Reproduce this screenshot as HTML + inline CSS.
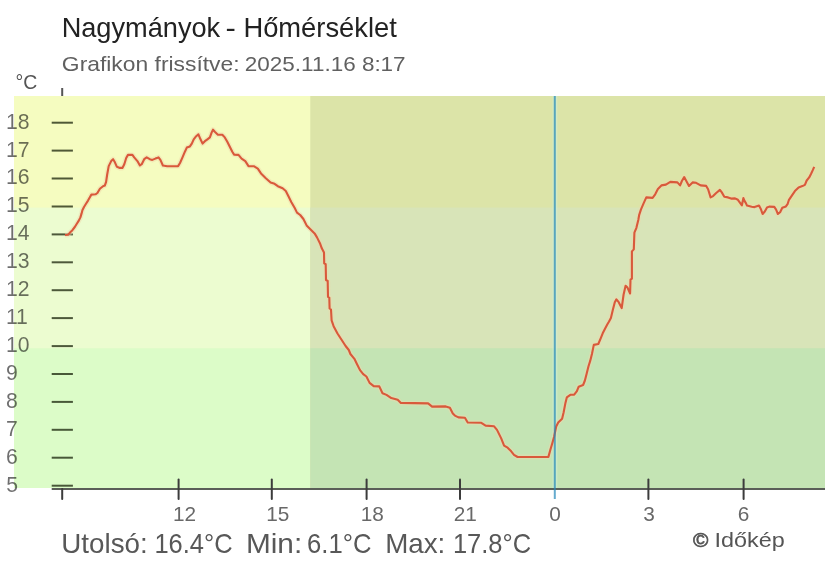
<!DOCTYPE html>
<html><head><meta charset="utf-8"><style>
html,body{margin:0;padding:0;background:#fff;width:825px;height:562px;overflow:hidden}
svg{display:block;will-change:transform;font-family:"Liberation Sans",sans-serif}
.yl{fill:rgba(0,0,0,0.57)}
.xl{fill:#686868}
.title{fill:#222}
.sub{fill:#606060}
.unit{fill:#555}
.foot{fill:#585858}
.copy{fill:#555}
</style></head><body>
<svg width="825" height="562" viewBox="0 0 825 562">
<rect x="14" y="96" width="811" height="392" fill="#f5fcc0"/>
<rect x="14" y="207.6" width="811" height="280.4" fill="#ecfcd0"/>
<rect x="14" y="348.2" width="811" height="139.8" fill="#dcfcc8"/>
<rect x="310.3" y="96" width="514.7" height="392" fill="#dce4a8"/>
<rect x="310.3" y="207.6" width="514.7" height="280.4" fill="#d8e4b8"/>
<rect x="310.3" y="348.2" width="514.7" height="139.8" fill="#c4e4b4"/>
<line x1="51.7" x2="72.9" y1="485.7" y2="485.7" stroke="rgba(15,25,0,0.72)" stroke-width="2"/>
<text x="6.15" y="491.56" font-size="21.2" class="yl">5</text>
<line x1="51.7" x2="72.9" y1="457.7" y2="457.7" stroke="rgba(15,25,0,0.72)" stroke-width="2"/>
<text x="5.94" y="463.64" font-size="21.2" class="yl">6</text>
<line x1="51.7" x2="72.9" y1="429.8" y2="429.8" stroke="rgba(15,25,0,0.72)" stroke-width="2"/>
<text x="5.94" y="435.72" font-size="21.2" class="yl">7</text>
<line x1="51.7" x2="72.9" y1="401.9" y2="401.9" stroke="rgba(15,25,0,0.72)" stroke-width="2"/>
<text x="6.05" y="407.80" font-size="21.2" class="yl">8</text>
<line x1="51.7" x2="72.9" y1="374.0" y2="374.0" stroke="rgba(15,25,0,0.72)" stroke-width="2"/>
<text x="6.05" y="379.88" font-size="21.2" class="yl">9</text>
<line x1="51.7" x2="72.9" y1="346.1" y2="346.1" stroke="rgba(15,25,0,0.72)" stroke-width="2"/>
<text x="5.91" y="351.96" font-size="21.2" class="yl">10</text>
<line x1="51.7" x2="72.9" y1="318.1" y2="318.1" stroke="rgba(15,25,0,0.72)" stroke-width="2"/>
<text x="5.91" y="324.04" font-size="21.2" class="yl">11</text>
<line x1="51.7" x2="72.9" y1="290.2" y2="290.2" stroke="rgba(15,25,0,0.72)" stroke-width="2"/>
<text x="5.91" y="296.12" font-size="21.2" class="yl">12</text>
<line x1="51.7" x2="72.9" y1="262.3" y2="262.3" stroke="rgba(15,25,0,0.72)" stroke-width="2"/>
<text x="5.91" y="268.20" font-size="21.2" class="yl">13</text>
<line x1="51.7" x2="72.9" y1="234.4" y2="234.4" stroke="rgba(15,25,0,0.72)" stroke-width="2"/>
<text x="5.91" y="240.28" font-size="21.2" class="yl">14</text>
<line x1="51.7" x2="72.9" y1="206.5" y2="206.5" stroke="rgba(15,25,0,0.72)" stroke-width="2"/>
<text x="5.91" y="212.36" font-size="21.2" class="yl">15</text>
<line x1="51.7" x2="72.9" y1="178.5" y2="178.5" stroke="rgba(15,25,0,0.72)" stroke-width="2"/>
<text x="5.91" y="184.44" font-size="21.2" class="yl">16</text>
<line x1="51.7" x2="72.9" y1="150.6" y2="150.6" stroke="rgba(15,25,0,0.72)" stroke-width="2"/>
<text x="5.91" y="156.52" font-size="21.2" class="yl">17</text>
<line x1="51.7" x2="72.9" y1="122.7" y2="122.7" stroke="rgba(15,25,0,0.72)" stroke-width="2"/>
<text x="5.91" y="128.60" font-size="21.2" class="yl">18</text>
<line x1="51.7" x2="825" y1="489" y2="489" stroke="#5a5e58" stroke-width="2"/>
<line x1="62.2" x2="62.2" y1="88" y2="96" stroke="#555" stroke-width="2"/>
<line x1="62.2" x2="62.2" y1="489" y2="499" stroke="#3c3c3c" stroke-width="2" stroke-linecap="round"/>
<line x1="178.6" x2="178.6" y1="479.4" y2="499" stroke="#3c3c3c" stroke-width="2" stroke-linecap="round"/>
<line x1="271.8" x2="271.8" y1="479.4" y2="499" stroke="#3c3c3c" stroke-width="2" stroke-linecap="round"/>
<line x1="366.6" x2="366.6" y1="479.4" y2="499" stroke="#3c3c3c" stroke-width="2" stroke-linecap="round"/>
<line x1="460.0" x2="460.0" y1="479.4" y2="499" stroke="#3c3c3c" stroke-width="2" stroke-linecap="round"/>
<line x1="648.4" x2="648.4" y1="479.4" y2="499" stroke="#3c3c3c" stroke-width="2" stroke-linecap="round"/>
<line x1="743.6" x2="743.6" y1="479.4" y2="499" stroke="#3c3c3c" stroke-width="2" stroke-linecap="round"/>
<text x="172.94" y="520.80" font-size="20.8" class="xl">12</text>
<text x="266.24" y="520.80" font-size="20.8" class="xl">15</text>
<text x="360.64" y="520.80" font-size="20.8" class="xl">18</text>
<text x="453.66" y="520.80" font-size="20.8" class="xl">21</text>
<text x="549.28" y="520.80" font-size="20.8" class="xl">0</text>
<text x="643.13" y="520.80" font-size="20.8" class="xl">3</text>
<text x="737.72" y="520.80" font-size="20.8" class="xl">6</text>
<line x1="554.9" x2="554.9" y1="96" y2="488" stroke="rgba(205,238,215,0.55)" stroke-width="5"/>
<polyline points="65.0,235.0 68.0,234.8 70.0,232.6 72.4,230.2 74.8,227.0 76.8,223.8 78.8,220.6 80.4,217.4 81.6,213.4 82.4,210.2 84.0,207.0 86.0,203.8 88.0,200.6 90.0,197.0 91.4,194.6 95.5,194.3 97.4,193.0 99.9,188.7 103.0,186.2 104.8,185.6 106.1,181.8 107.1,175.0 108.7,166.1 111.2,161.1 113.1,159.2 114.9,162.3 116.8,166.7 119.9,167.9 122.4,167.9 124.3,164.2 126.2,158.0 128.0,154.9 132.4,154.9 134.2,157.4 137.4,161.1 139.9,165.5 141.7,164.2 144.2,159.2 146.7,157.4 149.8,159.2 152.3,159.9 155.4,158.6 158.5,157.4 160.4,159.9 162.9,165.5 167.2,166.3 178.1,166.1 180.0,163.0 182.5,157.3 184.9,151.7 186.8,147.6 189.9,146.4 191.8,143.6 193.7,139.3 196.2,136.2 198.4,134.3 200.5,139.3 202.6,143.6 204.9,141.2 207.4,139.3 209.9,137.4 211.7,132.4 213.0,129.7 214.8,131.8 217.9,134.7 222.3,134.7 224.8,137.4 227.3,141.8 229.8,146.8 232.3,151.7 234.1,154.6 238.5,154.9 241.6,158.6 245.3,161.1 248.5,166.1 253.8,166.2 257.8,168.6 261.0,173.4 265.8,178.2 270.6,182.5 274.6,183.8 277.8,186.2 282.6,188.3 285.8,191.0 288.2,195.8 291.4,202.2 294.6,207.8 297.0,212.6 300.2,215.0 303.4,219.0 306.6,225.4 310.6,229.4 314.6,233.4 317.0,237.4 320.2,243.8 321.8,248.3 324.0,252.6 324.2,263.4 325.7,264.2 326.0,280.0 327.7,281.0 328.0,296.8 329.3,297.7 329.6,308.5 331.0,309.5 331.6,320.3 333.6,326.2 337.5,333.5 341.4,339.5 345.6,346.0 348.8,350.0 350.4,354.0 354.4,358.8 356.8,363.7 360.0,370.1 363.2,374.1 366.4,376.5 369.6,382.9 373.7,386.1 379.3,386.4 382.5,393.3 386.5,394.9 391.3,398.1 397.7,399.7 400.9,402.9 428.1,403.4 432.1,406.6 445.7,406.4 449.9,407.8 452.8,413.5 454.9,415.6 458.5,417.4 464.9,417.8 467.7,422.5 481.3,422.8 485.6,425.6 494.1,426.3 497.0,429.9 501.2,438.4 504.1,445.6 507.6,447.7 511.2,451.3 514.0,454.8 517.6,457.0 548.4,456.9 550.3,450.0 552.3,443.2 554.2,436.3 556.2,426.5 558.2,422.6 562.1,418.7 563.6,412.5 565.3,403.6 566.8,397.4 570.7,394.7 574.2,394.7 576.9,391.2 578.7,386.7 583.1,385.0 584.9,380.5 586.7,373.4 588.5,366.3 590.2,360.9 592.0,353.8 593.8,344.9 598.3,344.0 600.9,337.8 602.7,333.3 605.4,328.0 607.4,324.3 608.9,321.8 610.9,317.9 612.8,310.0 614.8,302.2 616.4,299.3 618.7,302.2 621.7,308.1 623.6,294.5 625.6,285.7 627.5,287.6 630.1,293.5 630.5,279.7 631.9,278.7 631.9,251.4 633.8,249.4 634.4,232.7 636.4,227.8 638.3,220.0 639.2,214.8 641.0,209.4 643.7,203.2 646.3,197.4 652.6,197.9 655.2,194.3 657.9,189.0 661.4,185.4 665.9,184.6 670.3,181.9 677.4,182.4 680.1,185.4 681.9,181.0 684.2,177.1 686.3,181.0 689.0,186.0 692.6,182.4 696.1,182.8 700.6,185.4 706.2,185.9 708.1,189.3 710.6,197.4 713.1,196.1 716.2,193.0 719.9,189.9 721.8,192.4 724.3,196.7 728.0,197.4 731.1,198.6 735.0,198.4 737.9,199.8 740.8,203.8 741.9,205.3 743.4,198.0 744.5,200.9 745.9,203.1 747.0,205.6 751.7,206.7 754.6,207.1 759.0,205.6 760.8,208.9 762.6,214.0 764.8,211.5 767.0,207.5 769.2,206.6 774.3,206.9 776.1,209.6 777.9,214.0 780.1,212.2 782.3,207.8 785.9,206.4 787.7,203.8 788.8,200.2 791.0,196.9 794.9,191.1 798.6,187.4 802.4,186.1 804.9,184.9 806.7,180.5 809.2,177.4 811.1,173.7 812.9,169.9 814.2,166.8" fill="none" stroke="rgba(240,215,170,0.45)" stroke-width="5" stroke-linejoin="round"/>
<polyline points="65.0,235.0 68.0,234.8 70.0,232.6 72.4,230.2 74.8,227.0 76.8,223.8 78.8,220.6 80.4,217.4 81.6,213.4 82.4,210.2 84.0,207.0 86.0,203.8 88.0,200.6 90.0,197.0 91.4,194.6 95.5,194.3 97.4,193.0 99.9,188.7 103.0,186.2 104.8,185.6 106.1,181.8 107.1,175.0 108.7,166.1 111.2,161.1 113.1,159.2 114.9,162.3 116.8,166.7 119.9,167.9 122.4,167.9 124.3,164.2 126.2,158.0 128.0,154.9 132.4,154.9 134.2,157.4 137.4,161.1 139.9,165.5 141.7,164.2 144.2,159.2 146.7,157.4 149.8,159.2 152.3,159.9 155.4,158.6 158.5,157.4 160.4,159.9 162.9,165.5 167.2,166.3 178.1,166.1 180.0,163.0 182.5,157.3 184.9,151.7 186.8,147.6 189.9,146.4 191.8,143.6 193.7,139.3 196.2,136.2 198.4,134.3 200.5,139.3 202.6,143.6 204.9,141.2 207.4,139.3 209.9,137.4 211.7,132.4 213.0,129.7 214.8,131.8 217.9,134.7 222.3,134.7 224.8,137.4 227.3,141.8 229.8,146.8 232.3,151.7 234.1,154.6 238.5,154.9 241.6,158.6 245.3,161.1 248.5,166.1 253.8,166.2 257.8,168.6 261.0,173.4 265.8,178.2 270.6,182.5 274.6,183.8 277.8,186.2 282.6,188.3 285.8,191.0 288.2,195.8 291.4,202.2 294.6,207.8 297.0,212.6 300.2,215.0 303.4,219.0 306.6,225.4 310.6,229.4 314.6,233.4 317.0,237.4 320.2,243.8 321.8,248.3 324.0,252.6 324.2,263.4 325.7,264.2 326.0,280.0 327.7,281.0 328.0,296.8 329.3,297.7 329.6,308.5 331.0,309.5 331.6,320.3 333.6,326.2 337.5,333.5 341.4,339.5 345.6,346.0 348.8,350.0 350.4,354.0 354.4,358.8 356.8,363.7 360.0,370.1 363.2,374.1 366.4,376.5 369.6,382.9 373.7,386.1 379.3,386.4 382.5,393.3 386.5,394.9 391.3,398.1 397.7,399.7 400.9,402.9 428.1,403.4 432.1,406.6 445.7,406.4 449.9,407.8 452.8,413.5 454.9,415.6 458.5,417.4 464.9,417.8 467.7,422.5 481.3,422.8 485.6,425.6 494.1,426.3 497.0,429.9 501.2,438.4 504.1,445.6 507.6,447.7 511.2,451.3 514.0,454.8 517.6,457.0 548.4,456.9 550.3,450.0 552.3,443.2 554.2,436.3 556.2,426.5 558.2,422.6 562.1,418.7 563.6,412.5 565.3,403.6 566.8,397.4 570.7,394.7 574.2,394.7 576.9,391.2 578.7,386.7 583.1,385.0 584.9,380.5 586.7,373.4 588.5,366.3 590.2,360.9 592.0,353.8 593.8,344.9 598.3,344.0 600.9,337.8 602.7,333.3 605.4,328.0 607.4,324.3 608.9,321.8 610.9,317.9 612.8,310.0 614.8,302.2 616.4,299.3 618.7,302.2 621.7,308.1 623.6,294.5 625.6,285.7 627.5,287.6 630.1,293.5 630.5,279.7 631.9,278.7 631.9,251.4 633.8,249.4 634.4,232.7 636.4,227.8 638.3,220.0 639.2,214.8 641.0,209.4 643.7,203.2 646.3,197.4 652.6,197.9 655.2,194.3 657.9,189.0 661.4,185.4 665.9,184.6 670.3,181.9 677.4,182.4 680.1,185.4 681.9,181.0 684.2,177.1 686.3,181.0 689.0,186.0 692.6,182.4 696.1,182.8 700.6,185.4 706.2,185.9 708.1,189.3 710.6,197.4 713.1,196.1 716.2,193.0 719.9,189.9 721.8,192.4 724.3,196.7 728.0,197.4 731.1,198.6 735.0,198.4 737.9,199.8 740.8,203.8 741.9,205.3 743.4,198.0 744.5,200.9 745.9,203.1 747.0,205.6 751.7,206.7 754.6,207.1 759.0,205.6 760.8,208.9 762.6,214.0 764.8,211.5 767.0,207.5 769.2,206.6 774.3,206.9 776.1,209.6 777.9,214.0 780.1,212.2 782.3,207.8 785.9,206.4 787.7,203.8 788.8,200.2 791.0,196.9 794.9,191.1 798.6,187.4 802.4,186.1 804.9,184.9 806.7,180.5 809.2,177.4 811.1,173.7 812.9,169.9 814.2,166.8" fill="none" stroke="#d9593b" stroke-width="2.1" stroke-linejoin="round"/>
<line x1="554.8" x2="554.8" y1="96" y2="499" stroke="rgba(35,135,185,0.7)" stroke-width="2"/>
<text x="61.63" y="36.70" font-size="27.8" class="title" textLength="158.60" lengthAdjust="spacingAndGlyphs">Nagymányok</text>
<text x="225.60" y="36.70" font-size="27.8" class="title" textLength="10.33" lengthAdjust="spacingAndGlyphs">-</text>
<text x="243.41" y="36.70" font-size="27.8" class="title" textLength="153.40" lengthAdjust="spacingAndGlyphs">Hőmérséklet</text>
<text x="61.86" y="71.00" font-size="20.2" class="sub" textLength="177.71" lengthAdjust="spacingAndGlyphs">Grafikon frissítve:</text>
<text x="244.88" y="71.00" font-size="20.2" class="sub" textLength="160.74" lengthAdjust="spacingAndGlyphs">2025.11.16 8:17</text>
<text x="15.54" y="89.20" font-size="20.4" class="unit" textLength="21.79" lengthAdjust="spacingAndGlyphs">°C</text>
<text x="61.32" y="553.20" font-size="27.8" class="foot" textLength="86.45" lengthAdjust="spacingAndGlyphs">Utolsó:</text>
<text x="154.39" y="553.20" font-size="27.8" class="foot" textLength="78.19" lengthAdjust="spacingAndGlyphs">16.4°C</text>
<text x="245.92" y="553.20" font-size="27.8" class="foot" textLength="56.29" lengthAdjust="spacingAndGlyphs">Min:</text>
<text x="307.02" y="553.20" font-size="27.8" class="foot" textLength="64.44" lengthAdjust="spacingAndGlyphs">6.1°C</text>
<text x="385.18" y="553.20" font-size="27.8" class="foot" textLength="60.18" lengthAdjust="spacingAndGlyphs">Max:</text>
<text x="452.89" y="553.20" font-size="27.8" class="foot" textLength="78.19" lengthAdjust="spacingAndGlyphs">17.8°C</text>
<text x="692.99" y="546.90" font-size="20.2" class="copy" stroke="#555" stroke-width="0.7" textLength="15.36" lengthAdjust="spacingAndGlyphs">©</text>
<text x="714.49" y="546.90" font-size="20.2" class="copy" textLength="70.30" lengthAdjust="spacingAndGlyphs">Időkép</text>
</svg>
</body></html>
